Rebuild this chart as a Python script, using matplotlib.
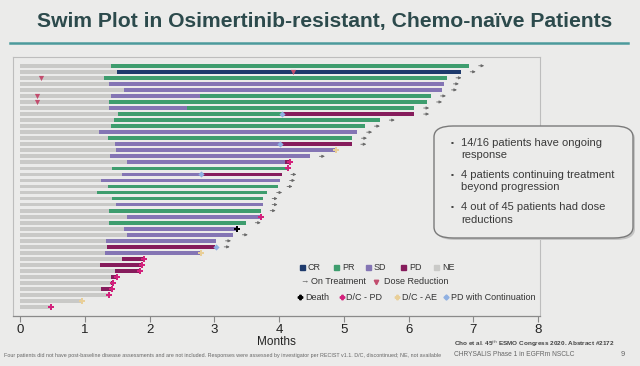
import matplotlib
matplotlib.use("Agg")
import matplotlib.pyplot as plt
from matplotlib.patches import FancyBboxPatch
from matplotlib.lines import Line2D

plt.rcParams['font.family'] = ['Liberation Sans', 'DejaVu Sans']

# ---------------- data (months) ----------------
ne_end = [1.41, 1.50, 1.30, 1.38, 1.61, 1.41, 1.38, 1.38, 1.51, 1.45,
          1.41, 1.22, 1.35, 1.46, 1.48, 1.39, 1.65, 1.42, 1.57, 1.25,
          1.35, 1.18, 1.42, 1.48, 1.38, 1.65, 1.38, 1.61, 1.65, 1.32,
          1.34, 1.31, 1.57, 1.24, 1.47, 1.41, 1.40, 1.25, 1.35, 0.95,
          0.47]
resp1 = ['PR', 'CR', 'PR', 'SD', 'SD', 'SD', 'PR', 'SD', 'PR', 'PR',
         'PR', 'SD', 'PR', 'SD', 'SD', 'SD', 'SD', 'PR', 'SD', 'SD',
         'PR', 'PR', 'PR', 'SD', 'PR', 'SD', 'PR', 'SD', 'SD', 'SD',
         'PD', 'SD', 'PD', 'PD', 'PD', 'PD', 'PD', 'PD', 'PD', None,
         None]
end1 = [6.94, 6.81, 6.59, 6.55, 6.52, 2.78, 6.29, 2.57, 4.04, 5.56,
        5.33, 5.21, 5.13, 4.02, 4.86, 4.48, 4.09, 4.13, 2.80, 4.02,
        3.98, 3.82, 3.75, 3.75, 3.72, 3.72, 3.49, 3.35, 3.29, 3.03,
        3.01, 2.80, 1.92, 1.88, 1.85, 1.50, 1.43, 1.42, 1.37, None,
        None]
resp2 = {6: 'PR', 8: 'PR', 9: 'PD', 14: 'PD', 17: 'PD', 19: 'PD'}
end2 = {6: 6.35, 8: 6.09, 9: 6.09, 14: 5.12, 17: 4.17, 19: 4.04}
on_treatment = [1, 2, 3, 4, 5, 6, 7, 8, 9, 10, 11, 12, 13, 14, 16, 19,
                20, 21, 22, 23, 24, 25, 27, 29, 30, 31]
death = {28: 3.35}
dc_pd = {17: 4.17, 18: 4.13, 26: 3.72, 33: 1.92, 34: 1.88, 35: 1.85,
         36: 1.50, 37: 1.43, 38: 1.42, 39: 1.37, 41: 0.47}
dc_ae = {15: 4.88, 32: 2.80, 40: 0.95}
pd_cont = {9: 4.05, 14: 4.02, 19: 2.80, 31: 3.03}
dose_red = {2: 4.22, 3: 0.32, 6: 0.26, 7: 0.26}

xticks = [0, 1, 2, 3, 4, 5, 6, 7, 8]

colors = {'CR': '#1e3a6c', 'PR': '#3e9d6e', 'SD': '#8475b4',
          'PD': '#861c5c', 'NE': '#c9c9c7'}
c_dcpd = '#d3217c'
c_dcae = '#e9cf98'
c_pdc = '#8fb0e2'
c_dose = '#c24d6e'
bg = '#ebebea'

# ---------------- figure ----------------
fig = plt.figure(figsize=(6.4, 3.66), dpi=100, facecolor=bg)
ax = fig.add_axes([13/640, 1-316/366, (540-13)/640, (316-57)/366])
ax.set_facecolor(bg)

h = 0.62
n = len(ne_end)
rows = list(range(1, n + 1))
ax.barh(rows, ne_end, height=h, color=colors['NE'], zorder=2)
for i, r in enumerate(rows):
    if resp1[i] is not None:
        ax.barh(r, end1[i] - ne_end[i], left=ne_end[i], height=h,
                color=colors[resp1[i]], zorder=2)
    if r in resp2:
        ax.barh(r, end2[r] - end1[i], left=end1[i], height=h,
                color=colors[resp2[r]], zorder=2)


def row_end(r):
    i = r - 1
    e = ne_end[i]
    if end1[i] is not None:
        e = end1[i]
    if r in end2:
        e = end2[r]
    return e


for r in on_treatment:
    e = row_end(r)
    ax.annotate('', xy=(e + 0.27, r), xytext=(e + 0.1, r),
                arrowprops=dict(arrowstyle='-|>', color='#6a6a6a', lw=0.6,
                                mutation_scale=4), zorder=4)

ax.scatter(list(pd_cont.values()), list(pd_cont.keys()), marker='D', s=10,
           color=c_pdc, zorder=5, linewidths=0)
ax.scatter(list(dc_pd.values()), list(dc_pd.keys()), marker='P', s=22,
           color=c_dcpd, zorder=5, linewidths=0)
ax.scatter(list(dc_ae.values()), list(dc_ae.keys()), marker='P', s=18,
           color=c_dcae, zorder=5, linewidths=0)
ax.scatter(list(death.values()), list(death.keys()), marker='P', s=22,
           color='black', zorder=5, linewidths=0)
ax.scatter(list(dose_red.values()), list(dose_red.keys()), marker='v', s=14,
           color=c_dose, zorder=5, linewidths=0)

ax.set_xlim(-0.11, 8.03)
ax.set_ylim(42.45, -0.45)
ax.set_yticks([])
ax.set_xticks(xticks)
ax.set_xticklabels([str(t) for t in xticks], fontsize=9.5, color='#222222')
ax.tick_params(axis='x', length=4, width=0.8, color='#888888', pad=2)
for s in ['top', 'right', 'left']:
    ax.spines[s].set_color('#bdbdbd')
    ax.spines[s].set_linewidth(0.8)
ax.spines['bottom'].set_color('#8a8a8a')
ax.spines['bottom'].set_linewidth(0.9)
ax.set_xlabel('Months', fontsize=8.5, color='#222222', labelpad=0)

# ---------------- title ----------------
fig.text(0.508, 1 - 22/366, 'Swim Plot in Osimertinib-resistant, Chemo-naïve Patients',
         ha='center', va='center', fontsize=15.2, fontweight='bold', color='#2c4a4c')
fig.add_artist(Line2D([10/640, 628/640], [1 - 43/366, 1 - 43/366],
                      color='#4c9a9c', lw=1.8))

# ---------------- legend (manual) ----------------
def fx(x):
    return x / 640


def fy(y):
    return 1 - y / 366


lfs = 6.5
row1 = [('CR', 302), ('PR', 336), ('SD', 368), ('PD', 403), ('NE', 436)]
for lab, x in row1:
    fig.add_artist(Line2D([fx(x)], [fy(267)], marker='s', ms=3.6, lw=0,
                          color=colors[lab]))
    fig.text(fx(x + 6), fy(267), lab, fontsize=lfs, va='center', color='#333333')
fig.text(fx(300), fy(281.5), '→', fontsize=6, va='center', color='#555555')
fig.text(fx(311), fy(281.5), 'On Treatment', fontsize=lfs, va='center', color='#333333')
fig.add_artist(Line2D([fx(376)], [fy(281.5)], marker='v', ms=3.2, lw=0, color=c_dose))
fig.text(fx(384), fy(281.5), 'Dose Reduction', fontsize=lfs, va='center', color='#333333')
row3 = [('Death', 300, 'black', 'P'), ('D/C - PD', 341.5, c_dcpd, 'P'),
        ('D/C - AE', 397, c_dcae, 'P'), ('PD with Continuation', 446, c_pdc, 'D')]
for lab, x, c, m in row3:
    fig.add_artist(Line2D([fx(x)], [fy(297)], marker=m, ms=3.2 if m == 'P' else 2.6,
                          lw=0, color=c))
    fig.text(fx(x + 5), fy(297), lab, fontsize=lfs, va='center', color='#333333')

# ---------------- text box ----------------
box = FancyBboxPatch((fx(434), fy(238)), fx(633 - 434), (238 - 126) / 366,
                     boxstyle='round,pad=0,rounding_size=0.03',
                     transform=fig.transFigure, facecolor=bg,
                     edgecolor='#7a7a7a', lw=1.0, zorder=3)
shadow = FancyBboxPatch((fx(436), fy(240)), fx(633 - 434), (238 - 126) / 366,
                        boxstyle='round,pad=0,rounding_size=0.03',
                        transform=fig.transFigure, facecolor='#c4c4c4',
                        edgecolor='none', zorder=2)
fig.add_artist(shadow)
fig.add_artist(box)
bullets = [(143, '14/16 patients have ongoing'), (155.5, 'response'),
           (175, '4 patients continuing treatment'), (187.5, 'beyond progression'),
           (207, '4 out of 45 patients had dose'), (219.5, 'reductions')]
for k, (y, t) in enumerate(bullets):
    if k % 2 == 0:
        fig.text(fx(451), fy(y), '▪', fontsize=6, va='center', color='#444444', zorder=4)
    fig.text(fx(461), fy(y), t, fontsize=8, va='center', color='#3a3a3a', zorder=4)

# ---------------- footers ----------------
fig.text(fx(4), fy(355), 'Four patients did not have post-baseline disease assessments and are not '
         'included. Responses were assessed by investigator per RECIST v1.1. D/C, discontinued; '
         'NE, not available', fontsize=3.9, va='center', color='#666666')
fig.text(fx(454), fy(344), 'Cho et al. 45$^{th}$ ESMO Congress 2020. Abstract #2172',
         fontsize=4.6, va='center', fontweight='bold', color='#444444')
fig.text(fx(454), fy(355), 'CHRYSALIS Phase 1 in EGFRm NSCLC', fontsize=4.8,
         va='center', color='#666666')
fig.text(fx(623), fy(355), '9', fontsize=5.5, va='center', ha='center', color='#666666')

fig.savefig('out.png', dpi=100, facecolor=bg)
